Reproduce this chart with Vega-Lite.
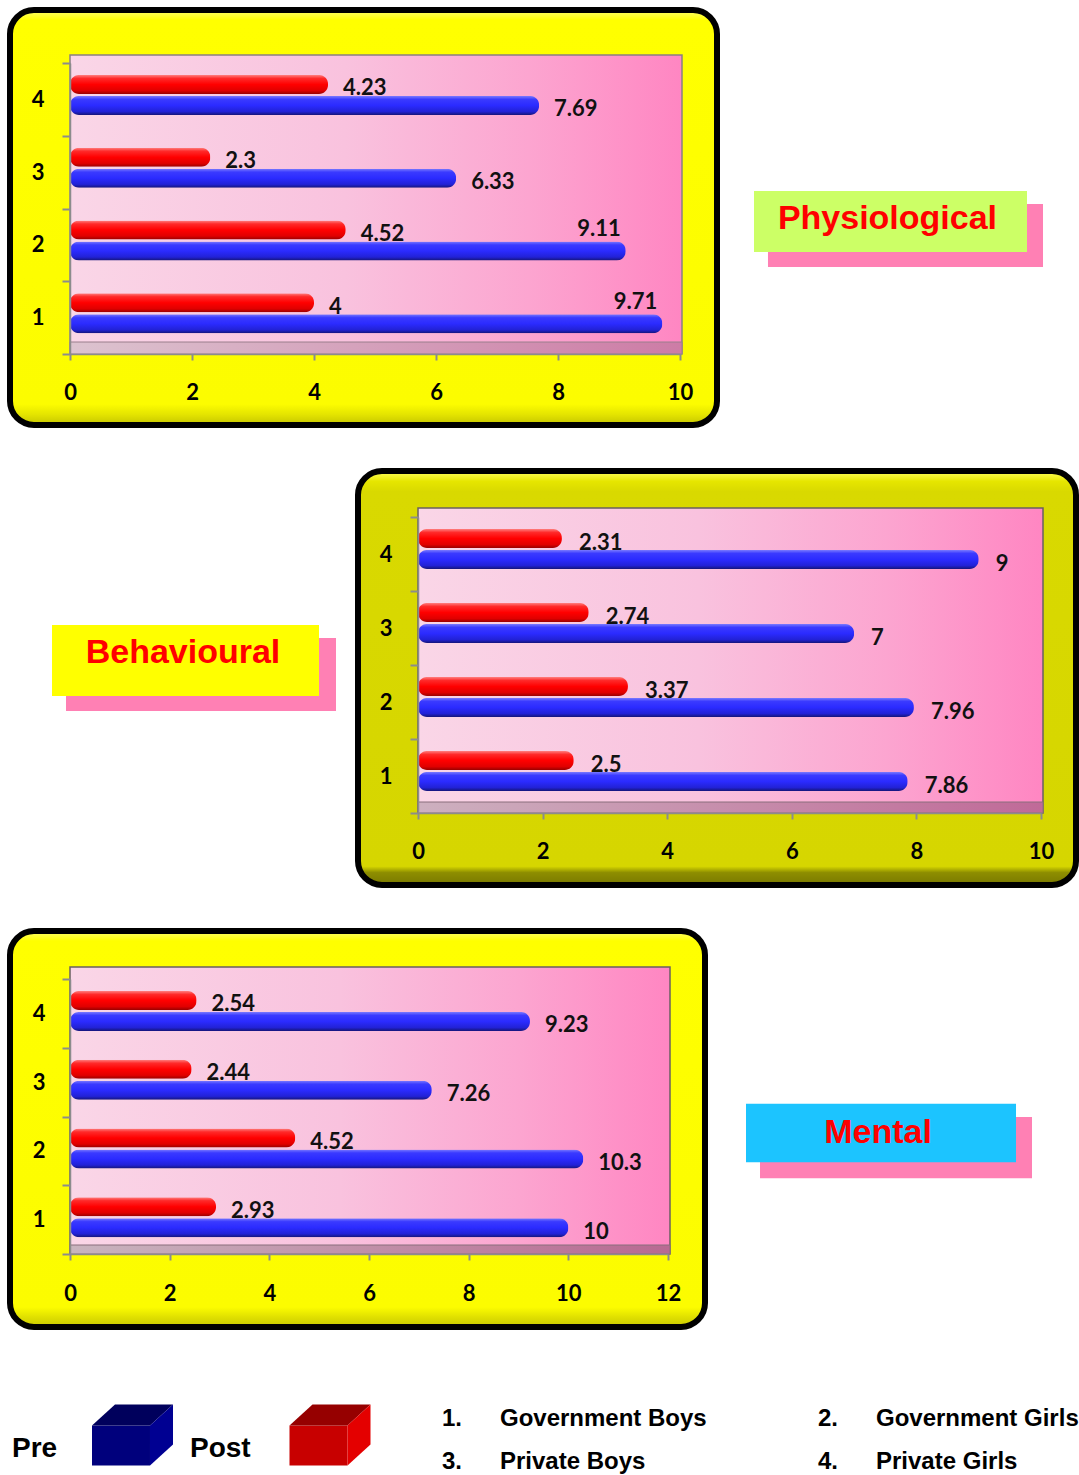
{
  "$schema": "https://vega.github.io/schema/vega-lite/v6.json",
  "background": "white",
  "padding": {"left": 7, "top": -4, "right": 0, "bottom": 0},
  "spacing": 29,
  "datasets": {
    "scores": [
      {"area": "Physiological", "code": 1, "phase": "Pre", "score": 9.71},
      {"area": "Physiological", "code": 1, "phase": "Post", "score": 4},
      {"area": "Physiological", "code": 2, "phase": "Pre", "score": 9.11},
      {"area": "Physiological", "code": 2, "phase": "Post", "score": 4.52},
      {"area": "Physiological", "code": 3, "phase": "Pre", "score": 6.33},
      {"area": "Physiological", "code": 3, "phase": "Post", "score": 2.3},
      {"area": "Physiological", "code": 4, "phase": "Pre", "score": 7.69},
      {"area": "Physiological", "code": 4, "phase": "Post", "score": 4.23},
      {"area": "Behavioural", "code": 1, "phase": "Pre", "score": 7.86},
      {"area": "Behavioural", "code": 1, "phase": "Post", "score": 2.5},
      {"area": "Behavioural", "code": 2, "phase": "Pre", "score": 7.96},
      {"area": "Behavioural", "code": 2, "phase": "Post", "score": 3.37},
      {"area": "Behavioural", "code": 3, "phase": "Pre", "score": 7},
      {"area": "Behavioural", "code": 3, "phase": "Post", "score": 2.74},
      {"area": "Behavioural", "code": 4, "phase": "Pre", "score": 9},
      {"area": "Behavioural", "code": 4, "phase": "Post", "score": 2.31},
      {"area": "Mental", "code": 1, "phase": "Pre", "score": 10},
      {"area": "Mental", "code": 1, "phase": "Post", "score": 2.93},
      {"area": "Mental", "code": 2, "phase": "Pre", "score": 10.3},
      {"area": "Mental", "code": 2, "phase": "Post", "score": 4.52},
      {"area": "Mental", "code": 3, "phase": "Pre", "score": 7.26},
      {"area": "Mental", "code": 3, "phase": "Post", "score": 2.44},
      {"area": "Mental", "code": 4, "phase": "Pre", "score": 9.23},
      {"area": "Mental", "code": 4, "phase": "Post", "score": 2.54}
    ],
    "areas": [
      {"area": "Physiological"},
      {"area": "Behavioural"},
      {"area": "Mental"}
    ],
    "phases": [
      {"phase": "Pre"},
      {"phase": "Post"}
    ],
    "schools": [
      {"code": 1, "school": "Government Boys", "sector": "Government", "gender": "Boys"},
      {"code": 2, "school": "Government Girls", "sector": "Government", "gender": "Girls"},
      {"code": 3, "school": "Private Boys", "sector": "Private", "gender": "Boys"},
      {"code": 4, "school": "Private Girls", "sector": "Private", "gender": "Girls"}
    ]
  },
  "vconcat": [
    {
      "bounds": "flush",
      "spacing": 37,
      "hconcat": [
        {
          "width": 707,
          "height": 415,
          "view": {
            "cornerRadius": 24,
            "stroke": "#000000",
            "strokeWidth": 6,
            "fill": {"gradient": "linear", "x1": 0, "y1": 0, "x2": 0, "y2": 1, "stops": [{"offset": 0, "color": "#ffff70"}, {"offset": 0.025, "color": "#ffff00"}, {"offset": 0.95, "color": "#fcfc00"}, {"offset": 0.975, "color": "#e4e400"}, {"offset": 1, "color": "#c4c400"}]}
          },
          "data": {"name": "scores"},
          "transform": [{"filter": "datum.area === 'Physiological'"}],
          "resolve": {"axis": {"x": "independent", "y": "independent"}},
          "layer": [
            {
              "transform": [{"filter": "datum.phase === 'Pre' && datum.code === 1"}],
              "mark": {"type": "rect", "stroke": "#8a8080", "strokeWidth": 1.5, "yOffset": -8, "x2Offset": 2,
                "color": {"gradient": "linear", "x1": 0, "y1": 0, "x2": 1, "y2": 0, "stops": [{"offset": 0, "color": "#fad6e7"}, {"offset": 0.45, "color": "#f9c2de"}, {"offset": 0.75, "color": "#fca5d0"}, {"offset": 1, "color": "#ff86c2"}]}},
              "encoding": {
                "x": {"datum": 0, "type": "quantitative", "scale": {"domain": [0, 10], "range": [60, 670], "nice": false, "zero": true}, "axis": null},
                "x2": {"datum": 10},
                "y": {"datum": 4, "type": "ordinal", "bandPosition": 0, "scale": {"domain": [4, 3, 2, 1], "range": [53, 344], "paddingInner": 0, "paddingOuter": 0}, "axis": null},
                "y2": {"datum": 1, "bandPosition": 1}
              }
            },
            {
              "transform": [{"filter": "datum.phase === 'Pre' && datum.code === 1"}],
              "mark": {"type": "rect", "stroke": "#9a7f8c", "strokeWidth": 1, "yOffset": -12, "x2Offset": 2,
                "color": {"gradient": "linear", "x1": 0, "y1": 0, "x2": 1, "y2": 0, "stops": [{"offset": 0, "color": "#dcc3cf"}, {"offset": 1, "color": "#cd7ca6"}]}},
              "encoding": {
                "x": {"datum": 0, "type": "quantitative", "scale": {"domain": [0, 10], "range": [60, 670], "nice": false, "zero": true}, "axis": null},
                "x2": {"datum": 10},
                "y": {"datum": 1, "type": "ordinal", "bandPosition": 1, "scale": {"domain": [4, 3, 2, 1], "range": [53, 344], "paddingInner": 0, "paddingOuter": 0}, "axis": null},
                "y2": {"datum": 1, "bandPosition": 1}
              }
            },
            {
              "mark": {"type": "bar", "cornerRadius": 9},
              "encoding": {
                "y": {"field": "code", "type": "ordinal", "scale": {"domain": [4, 3, 2, 1], "range": [53, 344], "paddingInner": 0, "paddingOuter": 0},
                  "axis": {"title": null, "orient": "left", "offset": -60, "tickBand": "extent", "tickSize": 8, "labelPadding": 18, "labelAngle": 0, "zindex": 1}},
                "yOffset": {"field": "phase", "scale": {"domain": ["Post", "Pre"], "paddingInner": 0.095, "paddingOuter": 0.78, "align": 0.366}},
                "x": {"field": "score", "type": "quantitative", "scale": {"domain": [0, 10], "range": [60, 670], "nice": false, "zero": true},
                  "axis": {"title": null, "orient": "bottom", "offset": -71, "values": [0, 2, 4, 6, 8, 10], "tickSize": 6, "labelPadding": 22, "labelFlush": false, "labelOverlap": false, "zindex": 1}},
                "color": {
                  "condition": {"test": "datum.phase === 'Pre'", "value": {"gradient": "linear", "x1": 0, "y1": 0, "x2": 0, "y2": 1, "stops": [{"offset": 0, "color": "#7a7aff"}, {"offset": 0.18, "color": "#3a3aff"}, {"offset": 0.5, "color": "#2b2bff"}, {"offset": 0.82, "color": "#2222d6"}, {"offset": 1, "color": "#15157a"}]}},
                  "value": {"gradient": "linear", "x1": 0, "y1": 0, "x2": 0, "y2": 1, "stops": [{"offset": 0, "color": "#ff8080"}, {"offset": 0.18, "color": "#ff2a2a"}, {"offset": 0.5, "color": "#ff0000"}, {"offset": 0.82, "color": "#e00000"}, {"offset": 1, "color": "#990000"}]}
                }
              }
            },
            {
              "transform": [{"filter": "datum.score <= 9"}],
              "mark": {"type": "text", "align": "left", "baseline": "middle", "dx": 15, "dy": 4, "font": "Lato", "fontWeight": "bold", "fontSize": 22, "color": "#111111"},
              "encoding": {
                "y": {"field": "code", "type": "ordinal", "scale": {"domain": [4, 3, 2, 1], "range": [53, 344], "paddingInner": 0, "paddingOuter": 0}, "axis": null},
                "yOffset": {"field": "phase", "scale": {"domain": ["Post", "Pre"], "paddingInner": 0.095, "paddingOuter": 0.78, "align": 0.366}},
                "x": {"field": "score", "type": "quantitative", "scale": {"domain": [0, 10], "range": [60, 670], "nice": false, "zero": true}, "axis": null},
                "text": {"field": "score", "type": "quantitative", "format": "~g"}
              }
            },
            {
              "transform": [{"filter": "datum.score > 9"}],
              "mark": {"type": "text", "align": "right", "baseline": "middle", "dx": -5, "dy": -22, "font": "Lato", "fontWeight": "bold", "fontSize": 22, "color": "#111111"},
              "encoding": {
                "y": {"field": "code", "type": "ordinal", "scale": {"domain": [4, 3, 2, 1], "range": [53, 344], "paddingInner": 0, "paddingOuter": 0}, "axis": null},
                "yOffset": {"field": "phase", "scale": {"domain": ["Post", "Pre"], "paddingInner": 0.095, "paddingOuter": 0.78, "align": 0.366}},
                "x": {"field": "score", "type": "quantitative", "scale": {"domain": [0, 10], "range": [60, 670], "nice": false, "zero": true}, "axis": null},
                "text": {"field": "score", "type": "quantitative", "format": "~g"}
              }
            }
          ]
        },
        {
          "width": 289,
          "height": 415,
          "data": {"name": "areas"},
          "transform": [{"filter": "datum.area === 'Physiological'"}],
          "layer": [
            {
              "mark": {"type": "rect", "color": "#ff80b4"},
              "encoding": {
                "x": {"datum": 0.0484, "type": "quantitative", "scale": {"domain": [0, 1], "nice": false, "zero": false}, "axis": null},
                "x2": {"datum": 1},
                "y": {"datum": 0.4675, "type": "quantitative", "scale": {"domain": [0, 1], "reverse": true, "nice": false, "zero": false}, "axis": null},
                "y2": {"datum": 0.6193}
              }
            },
            {
              "mark": {"type": "rect", "color": "#ccff66"},
              "encoding": {
                "x": {"datum": 0, "type": "quantitative", "scale": {"domain": [0, 1], "nice": false, "zero": false}, "axis": null},
                "x2": {"datum": 0.9446},
                "y": {"datum": 0.4361, "type": "quantitative", "scale": {"domain": [0, 1], "reverse": true, "nice": false, "zero": false}, "axis": null},
                "y2": {"datum": 0.5831}
              }
            },
            {
              "mark": {"type": "text", "align": "center", "baseline": "alphabetic", "font": "Liberation Sans", "fontWeight": "bold", "fontSize": 34, "color": "#ff0000"},
              "encoding": {
                "x": {"datum": 0.4619, "type": "quantitative", "scale": {"domain": [0, 1], "nice": false, "zero": false}, "axis": null},
                "y": {"datum": 0.5277, "type": "quantitative", "scale": {"domain": [0, 1], "reverse": true, "nice": false, "zero": false}, "axis": null},
                "text": {"field": "area"}
              }
            }
          ]
        }
      ]
    },
    {
      "bounds": "flush",
      "spacing": 18,
      "hconcat": [
        {
          "width": 330,
          "height": 414,
          "data": {"name": "areas"},
          "transform": [{"filter": "datum.area === 'Behavioural'"}],
          "layer": [
            {
              "mark": {"type": "rect", "color": "#ff80b4"},
              "encoding": {
                "x": {"datum": 0.1697, "type": "quantitative", "scale": {"domain": [0, 1], "nice": false, "zero": false}, "axis": null},
                "x2": {"datum": 0.9879},
                "y": {"datum": 0.4034, "type": "quantitative", "scale": {"domain": [0, 1], "reverse": true, "nice": false, "zero": false}, "axis": null},
                "y2": {"datum": 0.5797}
              }
            },
            {
              "mark": {"type": "rect", "color": "#ffff00"},
              "encoding": {
                "x": {"datum": 0.1273, "type": "quantitative", "scale": {"domain": [0, 1], "nice": false, "zero": false}, "axis": null},
                "x2": {"datum": 0.9364},
                "y": {"datum": 0.372, "type": "quantitative", "scale": {"domain": [0, 1], "reverse": true, "nice": false, "zero": false}, "axis": null},
                "y2": {"datum": 0.5435}
              }
            },
            {
              "mark": {"type": "text", "align": "center", "baseline": "alphabetic", "font": "Liberation Sans", "fontWeight": "bold", "fontSize": 34, "color": "#ff0000"},
              "encoding": {
                "x": {"datum": 0.5242, "type": "quantitative", "scale": {"domain": [0, 1], "nice": false, "zero": false}, "axis": null},
                "y": {"datum": 0.4638, "type": "quantitative", "scale": {"domain": [0, 1], "reverse": true, "nice": false, "zero": false}, "axis": null},
                "text": {"field": "area"}
              }
            }
          ]
        },
        {
          "width": 718,
          "height": 414,
          "view": {
            "cornerRadius": 24,
            "stroke": "#000000",
            "strokeWidth": 6,
            "fill": {"gradient": "linear", "x1": 0, "y1": 0, "x2": 0, "y2": 1, "stops": [{"offset": 0, "color": "#ffff60"}, {"offset": 0.025, "color": "#e6e600"}, {"offset": 0.05, "color": "#d9d900"}, {"offset": 0.955, "color": "#d6d600"}, {"offset": 0.97, "color": "#8e8e00"}, {"offset": 1, "color": "#787800"}]}
          },
          "data": {"name": "scores"},
          "transform": [{"filter": "datum.area === 'Behavioural'"}],
          "resolve": {"axis": {"x": "independent", "y": "independent"}},
          "layer": [
            {
              "transform": [{"filter": "datum.phase === 'Pre' && datum.code === 1"}],
              "mark": {"type": "rect", "stroke": "#6a6060", "strokeWidth": 1.5, "yOffset": -9, "x2Offset": 2,
                "color": {"gradient": "linear", "x1": 0, "y1": 0, "x2": 1, "y2": 0, "stops": [{"offset": 0, "color": "#fad6e7"}, {"offset": 0.45, "color": "#f9c2de"}, {"offset": 0.75, "color": "#fca5d0"}, {"offset": 1, "color": "#ff86c2"}]}},
              "encoding": {
                "x": {"datum": 0, "type": "quantitative", "scale": {"domain": [0, 10], "range": [60, 683], "nice": false, "zero": true}, "axis": null},
                "x2": {"datum": 10},
                "y": {"datum": 4, "type": "ordinal", "bandPosition": 0, "scale": {"domain": [4, 3, 2, 1], "range": [46, 342], "paddingInner": 0, "paddingOuter": 0}, "axis": null},
                "y2": {"datum": 1, "bandPosition": 1}
              }
            },
            {
              "transform": [{"filter": "datum.phase === 'Pre' && datum.code === 1"}],
              "mark": {"type": "rect", "stroke": "#8a6f7c", "strokeWidth": 1, "yOffset": -11, "x2Offset": 2,
                "color": {"gradient": "linear", "x1": 0, "y1": 0, "x2": 1, "y2": 0, "stops": [{"offset": 0, "color": "#cdb0bf"}, {"offset": 1, "color": "#c06a98"}]}},
              "encoding": {
                "x": {"datum": 0, "type": "quantitative", "scale": {"domain": [0, 10], "range": [60, 683], "nice": false, "zero": true}, "axis": null},
                "x2": {"datum": 10},
                "y": {"datum": 1, "type": "ordinal", "bandPosition": 1, "scale": {"domain": [4, 3, 2, 1], "range": [46, 342], "paddingInner": 0, "paddingOuter": 0}, "axis": null},
                "y2": {"datum": 1, "bandPosition": 1}
              }
            },
            {
              "mark": {"type": "bar", "cornerRadius": 9},
              "encoding": {
                "y": {"field": "code", "type": "ordinal", "scale": {"domain": [4, 3, 2, 1], "range": [46, 342], "paddingInner": 0, "paddingOuter": 0},
                  "axis": {"title": null, "orient": "left", "offset": -60, "tickBand": "extent", "tickSize": 8, "labelPadding": 18, "labelAngle": 0, "zindex": 1}},
                "yOffset": {"field": "phase", "scale": {"domain": ["Post", "Pre"], "paddingInner": 0.07, "paddingOuter": 0.74, "align": 0.34}},
                "x": {"field": "score", "type": "quantitative", "scale": {"domain": [0, 10], "range": [60, 683], "nice": false, "zero": true},
                  "axis": {"title": null, "orient": "bottom", "offset": -72, "values": [0, 2, 4, 6, 8, 10], "tickSize": 6, "labelPadding": 22, "labelFlush": false, "labelOverlap": false, "zindex": 1}},
                "color": {
                  "condition": {"test": "datum.phase === 'Pre'", "value": {"gradient": "linear", "x1": 0, "y1": 0, "x2": 0, "y2": 1, "stops": [{"offset": 0, "color": "#7a7aff"}, {"offset": 0.18, "color": "#3a3aff"}, {"offset": 0.5, "color": "#2b2bff"}, {"offset": 0.82, "color": "#2222d6"}, {"offset": 1, "color": "#15157a"}]}},
                  "value": {"gradient": "linear", "x1": 0, "y1": 0, "x2": 0, "y2": 1, "stops": [{"offset": 0, "color": "#ff8080"}, {"offset": 0.18, "color": "#ff2a2a"}, {"offset": 0.5, "color": "#ff0000"}, {"offset": 0.82, "color": "#e00000"}, {"offset": 1, "color": "#990000"}]}
                }
              }
            },
            {
              "mark": {"type": "text", "align": "left", "baseline": "middle", "dx": 17, "dy": 5, "font": "Lato", "fontWeight": "bold", "fontSize": 22, "color": "#111111"},
              "encoding": {
                "y": {"field": "code", "type": "ordinal", "scale": {"domain": [4, 3, 2, 1], "range": [46, 342], "paddingInner": 0, "paddingOuter": 0}, "axis": null},
                "yOffset": {"field": "phase", "scale": {"domain": ["Post", "Pre"], "paddingInner": 0.07, "paddingOuter": 0.74, "align": 0.34}},
                "x": {"field": "score", "type": "quantitative", "scale": {"domain": [0, 10], "range": [60, 683], "nice": false, "zero": true}, "axis": null},
                "text": {"field": "score", "type": "quantitative", "format": "~g"}
              }
            }
          ]
        }
      ]
    },
    {
      "bounds": "flush",
      "spacing": 41,
      "hconcat": [
        {
          "width": 695,
          "height": 396,
          "view": {
            "cornerRadius": 24,
            "stroke": "#000000",
            "strokeWidth": 6,
            "fill": {"gradient": "linear", "x1": 0, "y1": 0, "x2": 0, "y2": 1, "stops": [{"offset": 0, "color": "#ffff70"}, {"offset": 0.025, "color": "#ffff00"}, {"offset": 0.95, "color": "#fcfc00"}, {"offset": 0.975, "color": "#e0e000"}, {"offset": 1, "color": "#c8c800"}]}
          },
          "data": {"name": "scores"},
          "transform": [{"filter": "datum.area === 'Mental'"}],
          "resolve": {"axis": {"x": "independent", "y": "independent"}},
          "layer": [
            {
              "transform": [{"filter": "datum.phase === 'Pre' && datum.code === 1"}],
              "mark": {"type": "rect", "stroke": "#6a6060", "strokeWidth": 1.5, "yOffset": -12, "x2Offset": 2,
                "color": {"gradient": "linear", "x1": 0, "y1": 0, "x2": 1, "y2": 0, "stops": [{"offset": 0, "color": "#fad6e7"}, {"offset": 0.45, "color": "#f9c2de"}, {"offset": 0.75, "color": "#fca5d0"}, {"offset": 1, "color": "#ff86c2"}]}},
              "encoding": {
                "x": {"datum": 0, "type": "quantitative", "scale": {"domain": [0, 12], "range": [60, 658], "nice": false, "zero": true}, "axis": null},
                "x2": {"datum": 12},
                "y": {"datum": 4, "type": "ordinal", "bandPosition": 0, "scale": {"domain": [4, 3, 2, 1], "range": [48, 323], "paddingInner": 0, "paddingOuter": 0}, "axis": null},
                "y2": {"datum": 1, "bandPosition": 1}
              }
            },
            {
              "transform": [{"filter": "datum.phase === 'Pre' && datum.code === 1"}],
              "mark": {"type": "rect", "stroke": "#8a6f7c", "strokeWidth": 1, "yOffset": -9, "x2Offset": 2,
                "color": {"gradient": "linear", "x1": 0, "y1": 0, "x2": 1, "y2": 0, "stops": [{"offset": 0, "color": "#c8b4be"}, {"offset": 1, "color": "#b86a92"}]}},
              "encoding": {
                "x": {"datum": 0, "type": "quantitative", "scale": {"domain": [0, 12], "range": [60, 658], "nice": false, "zero": true}, "axis": null},
                "x2": {"datum": 12},
                "y": {"datum": 1, "type": "ordinal", "bandPosition": 1, "scale": {"domain": [4, 3, 2, 1], "range": [48, 323], "paddingInner": 0, "paddingOuter": 0}, "axis": null},
                "y2": {"datum": 1, "bandPosition": 1}
              }
            },
            {
              "mark": {"type": "bar", "cornerRadius": 9},
              "encoding": {
                "y": {"field": "code", "type": "ordinal", "scale": {"domain": [4, 3, 2, 1], "range": [48, 323], "paddingInner": 0, "paddingOuter": 0},
                  "axis": {"title": null, "orient": "left", "offset": -60, "tickBand": "extent", "tickSize": 8, "labelPadding": 17, "labelAngle": 0, "zindex": 1}},
                "yOffset": {"field": "phase", "scale": {"domain": ["Post", "Pre"], "paddingInner": 0.095, "paddingOuter": 0.78, "align": 0.27}},
                "x": {"field": "score", "type": "quantitative", "scale": {"domain": [0, 12], "range": [60, 658], "nice": false, "zero": true},
                  "axis": {"title": null, "orient": "bottom", "offset": -73, "values": [0, 2, 4, 6, 8, 10, 12], "tickSize": 6, "labelPadding": 23, "labelFlush": false, "labelOverlap": false, "zindex": 1}},
                "color": {
                  "condition": {"test": "datum.phase === 'Pre'", "value": {"gradient": "linear", "x1": 0, "y1": 0, "x2": 0, "y2": 1, "stops": [{"offset": 0, "color": "#7a7aff"}, {"offset": 0.18, "color": "#3a3aff"}, {"offset": 0.5, "color": "#2b2bff"}, {"offset": 0.82, "color": "#2222d6"}, {"offset": 1, "color": "#15157a"}]}},
                  "value": {"gradient": "linear", "x1": 0, "y1": 0, "x2": 0, "y2": 1, "stops": [{"offset": 0, "color": "#ff8080"}, {"offset": 0.18, "color": "#ff2a2a"}, {"offset": 0.5, "color": "#ff0000"}, {"offset": 0.82, "color": "#e00000"}, {"offset": 1, "color": "#990000"}]}
                }
              }
            },
            {
              "mark": {"type": "text", "align": "left", "baseline": "middle", "dx": 15, "dy": 4, "font": "Lato", "fontWeight": "bold", "fontSize": 22, "color": "#111111"},
              "encoding": {
                "y": {"field": "code", "type": "ordinal", "scale": {"domain": [4, 3, 2, 1], "range": [48, 323], "paddingInner": 0, "paddingOuter": 0}, "axis": null},
                "yOffset": {"field": "phase", "scale": {"domain": ["Post", "Pre"], "paddingInner": 0.095, "paddingOuter": 0.78, "align": 0.27}},
                "x": {"field": "score", "type": "quantitative", "scale": {"domain": [0, 12], "range": [60, 658], "nice": false, "zero": true}, "axis": null},
                "text": {"field": "score", "type": "quantitative", "format": "~g"}
              }
            }
          ]
        },
        {
          "width": 286,
          "height": 396,
          "data": {"name": "areas"},
          "transform": [{"filter": "datum.area === 'Mental'"}],
          "layer": [
            {
              "mark": {"type": "rect", "color": "#ff80b4"},
              "encoding": {
                "x": {"datum": 0.049, "type": "quantitative", "scale": {"domain": [0, 1], "nice": false, "zero": false}, "axis": null},
                "x2": {"datum": 1},
                "y": {"datum": 0.4695, "type": "quantitative", "scale": {"domain": [0, 1], "reverse": true, "nice": false, "zero": false}, "axis": null},
                "y2": {"datum": 0.6244}
              }
            },
            {
              "mark": {"type": "rect", "color": "#1cc4ff"},
              "encoding": {
                "x": {"datum": 0, "type": "quantitative", "scale": {"domain": [0, 1], "nice": false, "zero": false}, "axis": null},
                "x2": {"datum": 0.9441},
                "y": {"datum": 0.4365, "type": "quantitative", "scale": {"domain": [0, 1], "reverse": true, "nice": false, "zero": false}, "axis": null},
                "y2": {"datum": 0.5838}
              }
            },
            {
              "mark": {"type": "text", "align": "center", "baseline": "alphabetic", "font": "Liberation Sans", "fontWeight": "bold", "fontSize": 34, "color": "#ff0000"},
              "encoding": {
                "x": {"datum": 0.4615, "type": "quantitative", "scale": {"domain": [0, 1], "nice": false, "zero": false}, "axis": null},
                "y": {"datum": 0.5355, "type": "quantitative", "scale": {"domain": [0, 1], "reverse": true, "nice": false, "zero": false}, "axis": null},
                "text": {"field": "area"}
              }
            }
          ]
        }
      ]
    },
    {
      "width": 1069,
      "height": 120,
      "resolve": {"scale": {"x": "independent", "y": "independent", "color": "independent"}},
      "layer": [
        {
          "data": {"name": "phases"},
          "mark": {"type": "text", "align": "left", "baseline": "alphabetic", "dy": 38, "font": "Liberation Sans", "fontWeight": "bold", "fontSize": 28, "color": "#000000"},
          "encoding": {
            "x": {"field": "phase", "type": "nominal", "scale": {"type": "point", "domain": ["Pre", "Post"], "range": [2, 180], "padding": 0}, "axis": null},
            "text": {"field": "phase"}
          }
        },
        {
          "data": {"name": "phases"},
          "mark": {"type": "point", "filled": true, "opacity": 1, "strokeWidth": 0, "size": 6561, "yOffset": 16,
            "shape": "M-1,-0.235L0.432,-0.235L0.432,0.753L-1,0.753Z"},
          "encoding": {
            "x": {"field": "phase", "type": "nominal", "scale": {"type": "point", "domain": ["Pre", "Post"], "range": [122.5, 320], "padding": 0}, "axis": null},
            "color": {"condition": {"test": "datum.phase === 'Pre'", "value": "#00007c"}, "value": "#c80000"}
          }
        },
        {
          "data": {"name": "phases"},
          "mark": {"type": "point", "filled": true, "opacity": 1, "strokeWidth": 0, "size": 6561, "yOffset": 16,
            "shape": "M-1,-0.235L-0.432,-0.753L1,-0.753L0.432,-0.235Z"},
          "encoding": {
            "x": {"field": "phase", "type": "nominal", "scale": {"type": "point", "domain": ["Pre", "Post"], "range": [122.5, 320], "padding": 0}, "axis": null},
            "color": {"condition": {"test": "datum.phase === 'Pre'", "value": "#00005c"}, "value": "#960000"}
          }
        },
        {
          "data": {"name": "phases"},
          "mark": {"type": "point", "filled": true, "opacity": 1, "strokeWidth": 0, "size": 6561, "yOffset": 16,
            "shape": "M0.432,-0.235L1,-0.753L1,0.235L0.432,0.753Z"},
          "encoding": {
            "x": {"field": "phase", "type": "nominal", "scale": {"type": "point", "domain": ["Pre", "Post"], "range": [122.5, 320], "padding": 0}, "axis": null},
            "color": {"condition": {"test": "datum.phase === 'Pre'", "value": "#000092"}, "value": "#e40000"}
          }
        },
        {
          "data": {"name": "schools"},
          "transform": [{"calculate": "datum.code + '.'", "as": "marker"}],
          "mark": {"type": "text", "align": "left", "baseline": "alphabetic", "font": "Liberation Sans", "fontWeight": "bold", "fontSize": 24, "color": "#000000"},
          "encoding": {
            "x": {"field": "gender", "type": "nominal", "scale": {"type": "point", "domain": ["Boys", "Girls"], "range": [432, 808], "padding": 0}, "axis": null},
            "y": {"field": "sector", "type": "nominal", "scale": {"type": "point", "domain": ["Government", "Private"], "range": [67, 110], "padding": 0}, "axis": null},
            "text": {"field": "marker"}
          }
        },
        {
          "data": {"name": "schools"},
          "mark": {"type": "text", "align": "left", "baseline": "alphabetic", "dx": 58, "font": "Liberation Sans", "fontWeight": "bold", "fontSize": 24, "color": "#000000"},
          "encoding": {
            "x": {"field": "gender", "type": "nominal", "scale": {"type": "point", "domain": ["Boys", "Girls"], "range": [432, 808], "padding": 0}, "axis": null},
            "y": {"field": "sector", "type": "nominal", "scale": {"type": "point", "domain": ["Government", "Private"], "range": [67, 110], "padding": 0}, "axis": null},
            "text": {"field": "school"}
          }
        }
      ]
    }
  ],
  "config": {
    "view": {"stroke": null},
    "axis": {
      "labelFont": "Lato",
      "labelFontWeight": "bold",
      "labelFontSize": 22,
      "labelColor": "#000000",
      "domainColor": "#8c8c8c",
      "domainWidth": 1.5,
      "tickColor": "#8c8c8c",
      "tickWidth": 2,
      "grid": false
    }
  }
}
